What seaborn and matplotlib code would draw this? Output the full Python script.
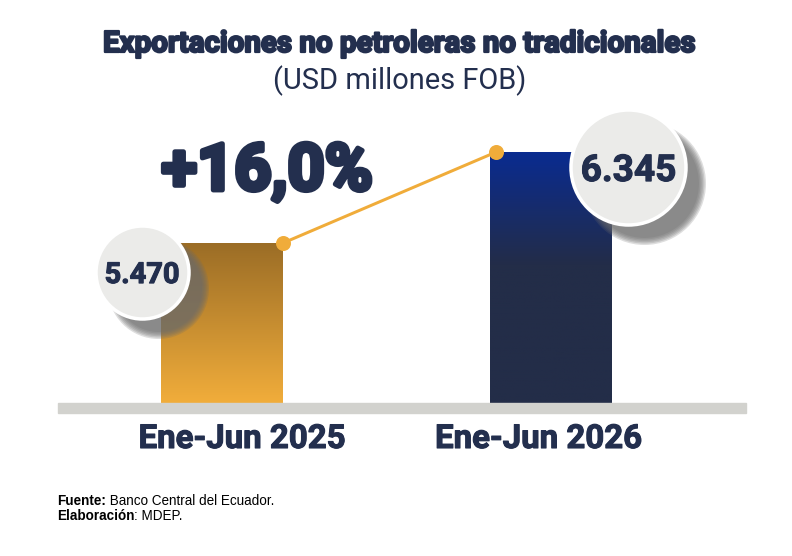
import numpy as np
import pandas as pd
import matplotlib
matplotlib.use("Agg")
import matplotlib.pyplot as plt
import matplotlib.patheffects as pe
import seaborn as sns
from matplotlib.colors import LinearSegmentedColormap
from matplotlib.transforms import ScaledTranslation
from matplotlib.patches import Rectangle

# ---- data ----
periods = ["Ene-Jun 2025", "Ene-Jun 2026"]
values = [5470, 6345]
value_labels = ["5.470", "6.345"]
growth_label = "+16,0%"
title = "Exportaciones no petroleras no tradicionales"
subtitle = "(USD millones FOB)"
source_bold = "Fuente:"
source_text = " Banco Central del Ecuador."
credit_bold = "Elaboración"
credit_text = ": MDEP."

NAVY = "#232f4e"
ORANGE = "#f0ac3a"

sns.set_theme(style="white")
plt.rcParams["font.family"] = ["Roboto", "DejaVu Sans"]

W, H = 792, 556
fig = plt.figure(figsize=(W / 100, H / 100), dpi=100)
fig.patch.set_facecolor("white")

def px(v):  # pixels -> points
    return v * 0.72

ax_left, ax_right, ax_top, ax_base = 58, 746, 100, 403
ax = fig.add_axes([ax_left / W, (H - ax_base) / H, (ax_right - ax_left) / W, (ax_base - ax_top) / H])

df = pd.DataFrame({"periodo": periods, "valor": values})
bar_w = 0.371
sns.barplot(data=df, x="periodo", y="valor", ax=ax, width=bar_w,
            palette=["#f1ad3b", "#232d48"], hue="periodo", legend=False,
            saturation=1, edgecolor="none", linewidth=0)

y_lo = 3932
y_hi = y_lo + (ax_base - ax_top) / 0.104
x_lo = (ax_left - 222) / 328.5
x_hi = (ax_right - 222) / 328.5

cmaps = [
    LinearSegmentedColormap.from_list("g1", [(0, "#f1ad3b"), (1, "#9b6d26")]),
    LinearSegmentedColormap.from_list("g2", [(0, "#232d48"), (0.55, "#232d48"), (1, "#0a2b90")]),
]
grad = np.linspace(0, 1, 256).reshape(-1, 1)
for patch, cm in zip(ax.patches, cmaps):
    x0 = patch.get_x()
    x1 = x0 + patch.get_width()
    top = patch.get_y() + patch.get_height()
    im = ax.imshow(grad, extent=[x0, x1, y_lo, top], origin="lower", aspect="auto",
                   cmap=cm, zorder=patch.get_zorder() + 0.1)
    im.set_clip_path(patch)

ax.set_xlim(x_lo, x_hi)
ax.set_ylim(y_lo, y_hi)

# baseline band
band_h = 10 / (ax_base - ax_top)
ax.add_patch(Rectangle((0, -band_h), 1, band_h, transform=ax.transAxes,
                       color="#d2d2ce", clip_on=False, zorder=3))

# connecting line
xs = [0 + bar_w / 2, 1 - bar_w / 2 + 0.02]
ax.plot(xs, values, color=ORANGE, lw=px(3), zorder=5, solid_capstyle="round")
ax.scatter(xs, values, s=px(15) ** 2, color=ORANGE, zorder=6, linewidths=0)

# value bubbles
bubble_specs = [
    # anchor x, offset px (dx, dy down), radius px, font px
    (0 - bar_w / 2, (-19, 29), 46.5, 29),
    (1 + bar_w / 2, (17, 15), 57.5, 37),
]
for (axx, (dx, dy), r, fpx), val, lab in zip(bubble_specs, values, value_labels):
    base_tr = ax.transData + ScaledTranslation(dx / 100, -dy / 100, fig.dpi_scale_trans)
    sh_tr = base_tr + ScaledTranslation(16 / 100, -16 / 100, fig.dpi_scale_trans)
    for k, rr in enumerate(np.linspace(r + 4, r - 3, 6)):
        ax.scatter([axx], [val], s=(px(2 * rr)) ** 2, color="#6a6a6a", alpha=0.22,
                   transform=sh_tr, zorder=7, linewidths=0, clip_on=False)
    ax.scatter([axx], [val], s=(px(2 * r)) ** 2, color="#ebebe9", edgecolors="white",
               linewidths=px(3.5), transform=base_tr, zorder=8, clip_on=False)
    ax.text(axx, val, lab, transform=base_tr, ha="center", va="center_baseline",
            fontsize=px(fpx), fontweight="bold", color=NAVY, zorder=9,
            path_effects=[pe.withStroke(linewidth=0.8, foreground=NAVY)])

# axes styling
for s in ax.spines.values():
    s.set_visible(False)
ax.set_yticks([])
ax.set_xlabel("")
ax.set_ylabel("")
ax.tick_params(axis="x", length=0, pad=px(20))
label_shift = [20, -12]
for tl, sh in zip(ax.get_xticklabels(), label_shift):
    tl.set_fontsize(px(33))
    tl.set_fontweight("bold")
    tl.set_color(NAVY)
    tl.set_path_effects([pe.withStroke(linewidth=0.8, foreground=NAVY)])
    tl.set_transform(tl.get_transform() + ScaledTranslation(sh / 100, 0, fig.dpi_scale_trans))

# titles
fig.text(400 / W, 1 - 52 / H, title, ha="center", va="baseline",
         fontsize=px(29.5), fontweight="bold", color=NAVY,
         path_effects=[pe.withStroke(linewidth=1.6, foreground=NAVY)])
fig.text(400 / W, 1 - 89 / H, subtitle, ha="center", va="baseline",
         fontsize=px(29), fontweight="normal", color=NAVY)
fig.text(267 / W, 1 - 190 / H, growth_label, ha="center", va="baseline",
         fontsize=px(65), fontweight="bold", color=NAVY,
         path_effects=[pe.withStroke(linewidth=3.5, foreground=NAVY)])

# footer
fig.canvas.draw()
r = fig.canvas.get_renderer()
for yb, bold, rest in [(505, source_bold, source_text), (520, credit_bold, credit_text)]:
    t = fig.text(57 / W, 1 - yb / H, bold, ha="left", va="baseline", fontsize=px(13.5),
                 fontweight="bold", family=["Liberation Sans", "DejaVu Sans"], color="black")
    bb = t.get_window_extent(renderer=r)
    fig.text(bb.x1 / W, 1 - yb / H, rest, ha="left", va="baseline", fontsize=px(13.5),
             family=["Liberation Sans", "DejaVu Sans"], color="black")

fig.savefig("out.png", dpi=100, facecolor="white")
